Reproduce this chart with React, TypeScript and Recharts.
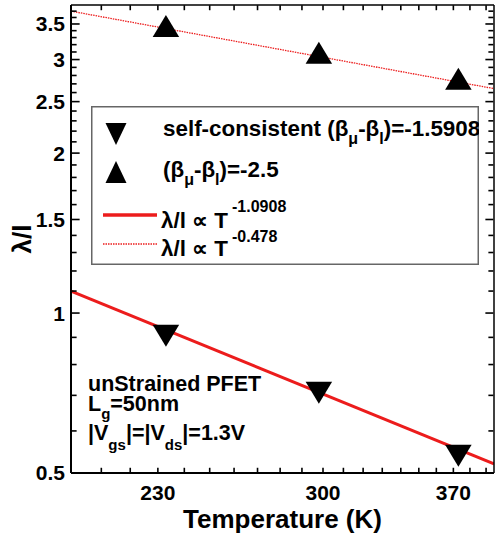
import React from 'react';
import { ComposedChart, Line, Scatter, XAxis, YAxis, Legend } from 'recharts';

// measured values (temperature in K, lambda/l)
const tempsSelf = [233, 298, 373];
const ratioSelf = [0.906, 0.708, 0.539];
const tempsFixed = [233, 298, 373];
const ratioFixed = [3.47, 3.09, 2.76];

// power-law fit lines, end points
const fitSolidT = [200, 395];
const fitSolidV = [1.1, 0.52];
const fitDotT = [200, 395];
const fitDotV = [3.7, 2.645];

const xTicks = [230, 300, 370];
const xMinorTicks = [210, 220, 240, 250, 260, 270, 280, 290, 310, 320, 330, 340, 350, 360, 380, 390];
const yTicks = [0.5, 1, 1.5, 2, 2.5, 3, 3.5];
const yMinorTicks = [0.6, 0.7, 0.8, 0.9, 1.1, 1.2, 1.3, 1.4, 1.6, 1.7, 1.8, 1.9, 2.1, 2.2, 2.3, 2.4, 2.6, 2.7, 2.8, 2.9, 3.1, 3.2, 3.3, 3.4, 3.6, 3.7];

const X_DOMAIN: [number, number] = [200, 395];
const Y_DOMAIN: [number, number] = [0.5, 3.8];

const FONT = '"Liberation Sans", Arial, Helvetica, sans-serif';
const RED = '#ec1c1c';

const zip = (ts: number[], vs: number[]) => ts.map((t, i) => ({ t, v: vs[i] }));
const selfData = zip(tempsSelf, ratioSelf);
const fixedData = zip(tempsFixed, ratioFixed);
const solidData = zip(fitSolidT, fitSolidV);
const dotData = zip(fitDotT, fitDotV);

// inward tick marks on the four sides of the frame, placed through the axis scales
// (kept a hair inside the domain so they are not dropped at the edge)
const EDGE = 1.001;
const xAllTicks = [...xTicks, ...xMinorTicks];
const yAllTicks = [...yTicks.filter((v) => v > Y_DOMAIN[0]), ...yMinorTicks];
const bottomMarks = xAllTicks.map((t) => ({ t, v: Y_DOMAIN[0] * EDGE }));
const topMarks = xAllTicks.map((t) => ({ t, v: Y_DOMAIN[1] / EDGE }));
const leftMarks = yAllTicks.map((v) => ({ t: X_DOMAIN[0] * EDGE, v, major: yTicks.includes(v) }));
const rightMarks = yAllTicks.map((v) => ({ t: X_DOMAIN[1] / EDGE, v, major: yTicks.includes(v) }));

const MINOR = 5;
const MAJOR = 8;
const TW = 1.6;

const box = (x0: number, y0: number, w: number, h: number) =>
  `${x0},${y0} ${x0 + w},${y0} ${x0 + w},${y0 + h} ${x0},${y0 + h}`;
const isMajor = (p: any) => Boolean(p.payload?.major ?? p.major);
const MarkUp = (p: any) => (p.cx == null ? null : <polygon points={box(p.cx - TW / 2, p.cy - MINOR, TW, MINOR)} fill="#000" />);
const MarkDown = (p: any) => (p.cx == null ? null : <polygon points={box(p.cx - TW / 2, p.cy, TW, MINOR)} fill="#000" />);
const MarkRight = (p: any) => {
  if (p.cx == null) return null;
  const len = isMajor(p) ? MAJOR : MINOR;
  return <polygon points={box(p.cx, p.cy - TW / 2, len, TW)} fill="#000" />;
};
const MarkLeft = (p: any) => {
  if (p.cx == null) return null;
  const len = isMajor(p) ? MAJOR : MINOR;
  return <polygon points={box(p.cx - len, p.cy - TW / 2, len, TW)} fill="#000" />;
};

const downPts = (cx: number, cy: number, w = 26.5, h = 22) =>
  `${cx - w / 2},${cy - h / 2} ${cx + w / 2},${cy - h / 2} ${cx},${cy + h / 2}`;
const upPts = (cx: number, cy: number, w = 26.5, h = 22) =>
  `${cx},${cy - h / 2} ${cx - w / 2},${cy + h / 2} ${cx + w / 2},${cy + h / 2}`;

const DownMarker = (props: any) => {
  const { cx, cy } = props;
  if (cx == null || cy == null) return null;
  return <polygon points={downPts(cx, cy)} fill="#000" />;
};
const UpMarker = (props: any) => {
  const { cx, cy } = props;
  if (cx == null || cy == null) return null;
  return <polygon points={upPts(cx, cy)} fill="#000" />;
};

const txt = { fontFamily: FONT, fontWeight: 'bold' as const, fill: '#000' };

const LegendBox = () => (
  <svg width={388} height={159} style={{ display: 'block' }}>
    <rect x={0.75} y={0.75} width={386.5} height={157.5} fill="#fff" stroke="#666" strokeWidth={1.5} />
    <polygon points={downPts(25, 28, 21, 22)} fill="#000" />
    <text x={72} y={30} fontSize={22.4} {...txt}>
      self-consistent (β<tspan dy={8} fontSize={16}>μ</tspan>
      <tspan dy={-8}>-β</tspan>
      <tspan dy={8} fontSize={16}>l</tspan>
      <tspan dy={-8}>)=-1.5908</tspan>
    </text>
    <polygon points={upPts(25, 66, 21, 22)} fill="#000" />
    <text x={72} y={71} fontSize={22.4} {...txt}>
      (β<tspan dy={8} fontSize={16}>μ</tspan>
      <tspan dy={-8}>-β</tspan>
      <tspan dy={8} fontSize={16}>l</tspan>
      <tspan dy={-8}>)=-2.5</tspan>
    </text>
    <line x1={12} x2={66} y1={109} y2={109} stroke={RED} strokeWidth={3.5} />
    <text x={70} y={122} fontSize={22.4} {...txt}>
      λ/l ∝ T<tspan dx={4} dy={-16} fontSize={16}>-1.0908</tspan>
    </text>
    <line x1={12} x2={66} y1={138} y2={138} stroke={RED} strokeWidth={1.3} strokeDasharray="1.5 1" />
    <text x={70} y={150} fontSize={22.4} {...txt}>
      λ/l ∝ T<tspan dx={4} dy={-14} fontSize={16}>-0.478</tspan>
    </text>
  </svg>
);

const axisLine = { stroke: '#000', strokeWidth: 2 };
const frameLine = { stroke: '#000', strokeWidth: 1.5 };
const tickText = { fill: '#000', fontSize: 21, fontWeight: 'bold', fontFamily: FONT };

export default function App() {
  return (
    <div style={{ position: 'absolute', left: 0, top: 0, background: '#fff' }}>
      <ComposedChart width={498} height={542} margin={{ top: 4, right: 3, bottom: 0, left: 0 }}>
        <XAxis
          xAxisId="x"
          dataKey="t"
          type="number"
          scale="log"
          domain={X_DOMAIN}
          allowDataOverflow
          ticks={xTicks}
          interval={0}
          height={69}
          tickLine={false}
          tickSize={0}
          tickMargin={12}
          axisLine={axisLine}
          tick={tickText}
          label={{ value: 'Temperature (K)', position: 'insideBottom', offset: 14, fill: '#000', fontSize: 26, fontWeight: 'bold', fontFamily: FONT }}
        />
        <XAxis xAxisId="xt" dataKey="t" type="number" scale="log" domain={X_DOMAIN} allowDataOverflow
          orientation="top" height={1} tick={false} tickLine={false} axisLine={frameLine} />
        <YAxis
          yAxisId="y"
          dataKey="v"
          type="number"
          scale="log"
          domain={Y_DOMAIN}
          allowDataOverflow
          ticks={yTicks}
          interval={0}
          width={71}
          tickLine={false}
          tickSize={0}
          tickMargin={6}
          axisLine={axisLine}
          tick={tickText}
        />
        <YAxis yAxisId="yr" dataKey="v" type="number" scale="log" domain={Y_DOMAIN} allowDataOverflow
          orientation="right" width={1} tick={false} tickLine={false} axisLine={frameLine} />

        <Scatter xAxisId="x" yAxisId="y" name="ticks-b" data={bottomMarks} shape={MarkUp} isAnimationActive={false} />
        <Scatter xAxisId="x" yAxisId="y" name="ticks-t" data={topMarks} shape={MarkDown} isAnimationActive={false} />
        <Scatter xAxisId="x" yAxisId="y" name="ticks-l" data={leftMarks} shape={MarkRight} isAnimationActive={false} />
        <Scatter xAxisId="x" yAxisId="y" name="ticks-r" data={rightMarks} shape={MarkLeft} isAnimationActive={false} />

        <Scatter xAxisId="x" yAxisId="y" name="self-consistent" data={selfData} shape={DownMarker} isAnimationActive={false} />
        <Scatter xAxisId="xt" yAxisId="yr" name="fixed" data={fixedData} shape={UpMarker} isAnimationActive={false} />
        <Line xAxisId="x" yAxisId="y" data={solidData} dataKey="v" stroke={RED} strokeWidth={3} dot={false} isAnimationActive={false} />
        <Line xAxisId="xt" yAxisId="yr" data={dotData} dataKey="v" stroke={RED} strokeWidth={1.3} strokeDasharray="1.5 1" dot={false} isAnimationActive={false} />

        <Legend layout="vertical" align="center" verticalAlign="middle" width={388} height={159}
          wrapperStyle={{ left: 91, top: 106, width: 388, height: 159 }} content={() => <LegendBox />} />

        <text x={31} y={239} transform="rotate(-90 31 239)" textAnchor="middle" fontSize={26} {...txt}>λ/l</text>
        <text x={88} y={391} fontSize={21.5} {...txt}>unStrained PFET</text>
        <text x={88} y={411} fontSize={21.5} {...txt}>
          L<tspan dy={8} fontSize={15}>g</tspan>
          <tspan dy={-8}>=50nm</tspan>
        </text>
        <text x={88} y={440} fontSize={21.5} {...txt}>
          |V<tspan dy={10} fontSize={15}>gs</tspan>
          <tspan dy={-10}>|=|V</tspan>
          <tspan dy={10} fontSize={15}>ds</tspan>
          <tspan dy={-10}>|=1.3V</tspan>
        </text>
      </ComposedChart>
    </div>
  );
}
